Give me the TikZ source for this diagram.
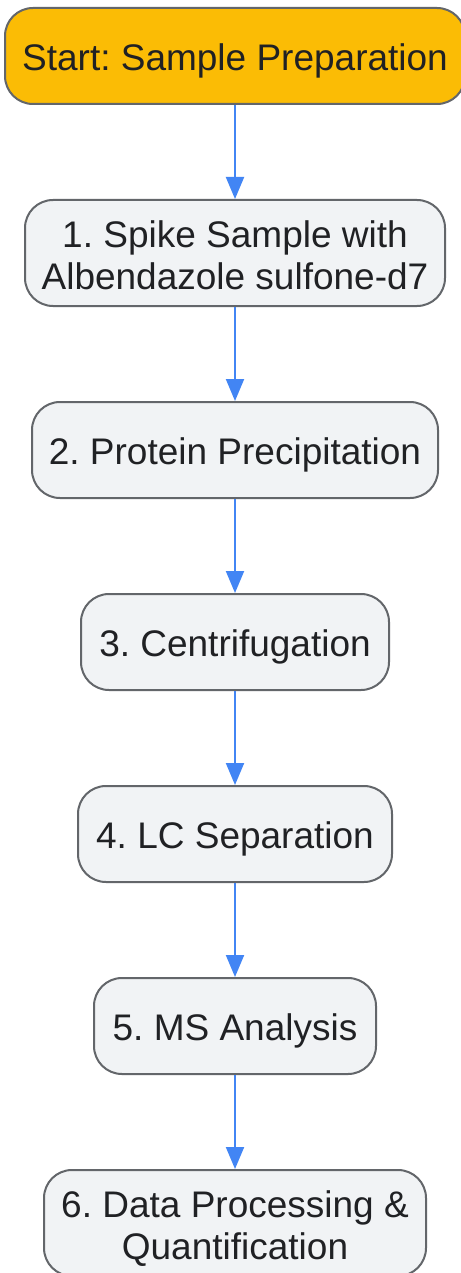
\documentclass[tikz,border=0pt]{standalone}
\usepackage{fontspec}
\setmainfont{Liberation Sans}
\usetikzlibrary{arrows.meta}
\definecolor{startfill}{HTML}{FBBC05}
\definecolor{boxfill}{HTML}{F1F3F5}
\definecolor{boxline}{HTML}{63666A}
\definecolor{txt}{HTML}{202124}
\definecolor{arrowc}{HTML}{4285F4}
\tikzset{
  flowbox/.style={draw=boxline, line width=2pt, fill=boxfill, rounded corners=28pt,
    inner sep=0pt, align=center, text=txt,
    font=\fontsize{37}{42}\selectfont\frenchspacing,
    text height=29pt, text depth=0pt},
  twoline/.style={text height=80pt, text depth=8pt},
  startbox/.style={flowbox, fill=startfill},
  flowarrow/.style={draw=arrowc, line width=2pt, -{Triangle[length=22pt,width=18pt]}},
}
\begin{document}
\begin{tikzpicture}[x=1pt,y=-1pt]
\useasboundingbox (0,0) rectangle (460,1273);
\fill[white] (0,0) rectangle (460,1273);
\node[startbox, minimum width=460pt, minimum height=96pt] (s) at (235,56) {Start: Sample Preparation};
\node[flowbox, twoline, minimum width=420pt, minimum height=106pt] (n1) at (235,253) {1. Spike Sample with\\Albendazole sulfone-d7};
\node[flowbox, minimum width=406pt, minimum height=96pt] (n2) at (235,450) {2. Protein Precipitation};
\node[flowbox, minimum width=308pt, minimum height=96pt] (n3) at (235,642) {3. Centrifugation};
\node[flowbox, minimum width=314pt, minimum height=96pt] (n4) at (235,834) {4. LC Separation};
\node[flowbox, minimum width=282pt, minimum height=96pt] (n5) at (235,1026) {5. MS Analysis};
\node[flowbox, twoline, minimum width=382pt, minimum height=106pt] (n6) at (235,1223) {6. Data Processing \&\\Quantification};
\draw[flowarrow] (s) -- (n1);
\draw[flowarrow] (n1) -- (n2);
\draw[flowarrow] (n2) -- (n3);
\draw[flowarrow] (n3) -- (n4);
\draw[flowarrow] (n4) -- (n5);
\draw[flowarrow] (n5) -- (n6);
\end{tikzpicture}
\end{document}
